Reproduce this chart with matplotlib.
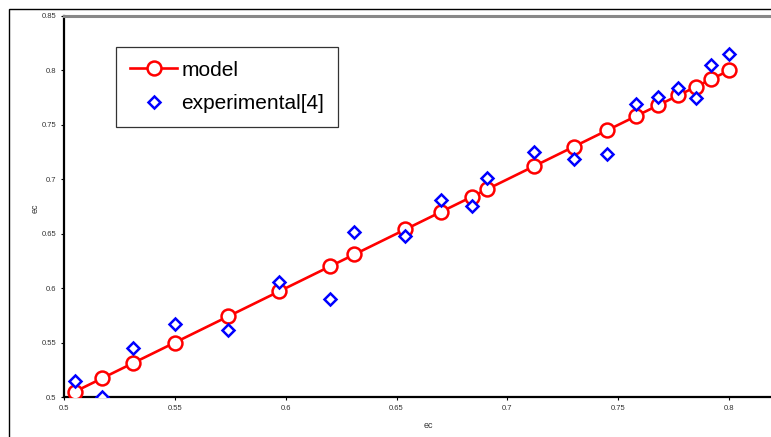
import matplotlib
matplotlib.use("Agg")
import matplotlib.pyplot as plt
from matplotlib.patches import Rectangle

plt.rcParams["font.family"] = ["Liberation Sans", "DejaVu Sans"]

# values
model_x = [0.505, 0.517, 0.531, 0.550, 0.574, 0.597, 0.620, 0.631, 0.654, 0.670,
           0.684, 0.691, 0.712, 0.730, 0.745, 0.758, 0.768, 0.777, 0.785, 0.792, 0.800]
model_y = [0.505, 0.517, 0.531, 0.550, 0.574, 0.597, 0.620, 0.631, 0.654, 0.670,
           0.684, 0.691, 0.712, 0.730, 0.745, 0.758, 0.768, 0.777, 0.785, 0.792, 0.800]
exp_x = model_x
exp_y = [0.515, 0.500, 0.545, 0.567, 0.562, 0.606, 0.590, 0.652, 0.648, 0.681,
         0.675, 0.701, 0.725, 0.719, 0.723, 0.769, 0.776, 0.784, 0.775, 0.805, 0.815]

x_ticks = [0.5, 0.55, 0.6, 0.65, 0.7, 0.75, 0.8]
y_ticks = [0.5, 0.55, 0.6, 0.65, 0.7, 0.75, 0.8, 0.85]

fig = plt.figure(figsize=(7.71, 4.37), dpi=100)
fig.patch.set_facecolor("white")

# outer chart frame (runs off the right/bottom edge like the source crop)
fig.add_artist(Rectangle((9 / 771, -0.1), 1.2, 1 - 9 / 437 + 0.1,
                         transform=fig.transFigure, fill=False,
                         edgecolor="black", linewidth=1.0))

ax = fig.add_axes([64 / 771, 40 / 437, 776 / 771, 381 / 437])
ax.set_facecolor("white")

ax.plot(model_x, model_y, color="red", linewidth=1.9, marker="o",
        markersize=10, markerfacecolor="white", markeredgecolor="red",
        markeredgewidth=1.8, label="model", zorder=3)
ax.plot(exp_x, exp_y, linestyle="none", marker="D", markersize=6.5,
        markerfacecolor="white", markeredgecolor="#0000ff",
        markeredgewidth=1.8, label="experimental[4]", zorder=4)

ax.set_xlim(0.5, 0.85)
ax.set_ylim(0.5, 0.85)
ax.set_xticks(x_ticks)
ax.set_yticks(y_ticks)
ax.set_xticklabels([f"{t:g}" for t in x_ticks])
ax.set_yticklabels([f"{t:g}" for t in y_ticks])
ax.tick_params(labelsize=5.5, labelcolor="#333333", length=2.5, width=0.8,
               direction="out", pad=3)

for s in ["left", "bottom"]:
    ax.spines[s].set_linewidth(1.6)
    ax.spines[s].set_color("black")
ax.spines["top"].set_color("#888888")
ax.spines["top"].set_linewidth(2.2)
ax.spines["right"].set_visible(False)

fig.text(428 / 771, 1 - 425 / 437, "ec", fontsize=6.5, color="#333333",
         ha="center", va="center")
fig.text(35 / 771, 1 - 208 / 437, "ec", fontsize=6.5, color="#333333",
         ha="center", va="center", rotation=90)

leg = ax.legend(loc="upper left", bbox_to_anchor=(116 / 771, 1 - 47 / 437),
                bbox_transform=fig.transFigure, fontsize=15, frameon=True,
                fancybox=False, edgecolor="black", handlelength=2.3,
                handletextpad=0.2, labelspacing=0.7, borderpad=0.65,
                borderaxespad=0)
leg.get_frame().set_linewidth(0.9)

fig.savefig("out.png", dpi=100, facecolor="white")
